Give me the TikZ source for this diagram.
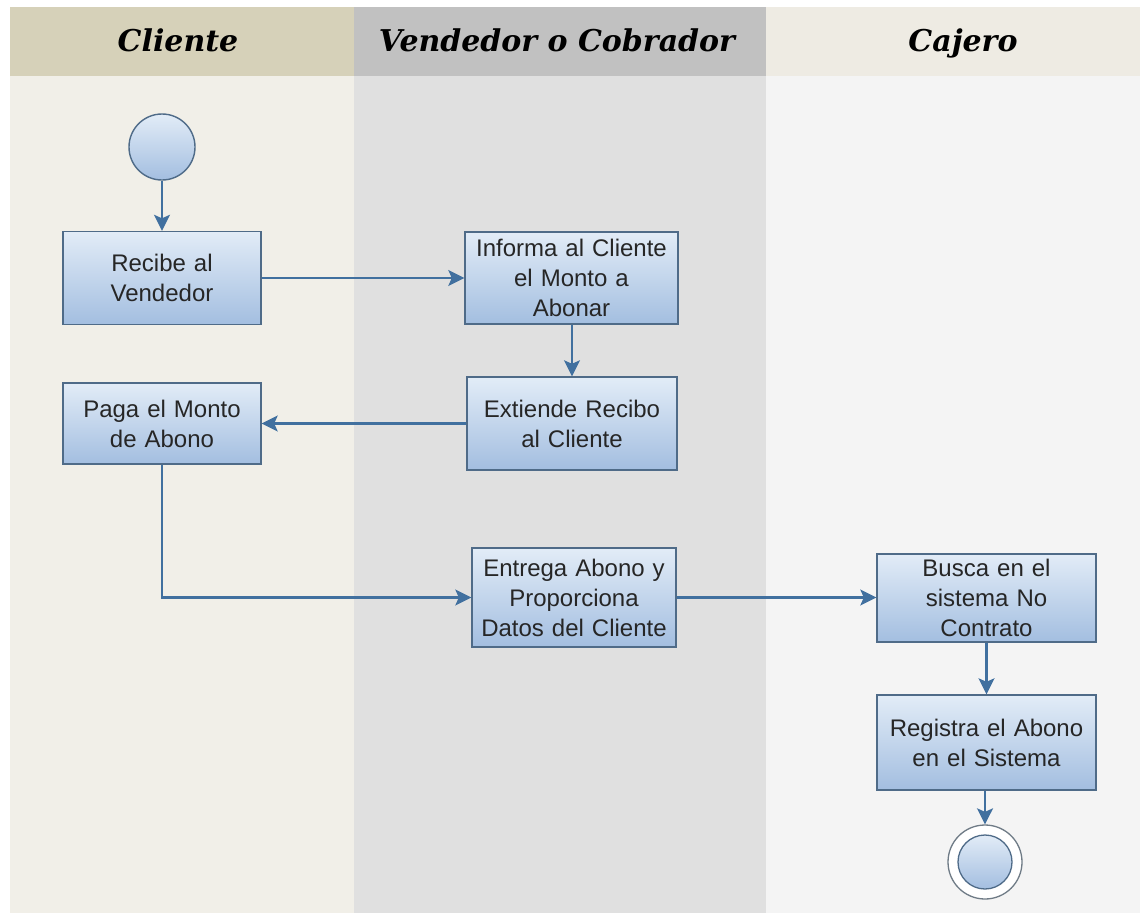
\documentclass[tikz,border=0pt]{standalone}
\usepackage{fontspec}
\setmainfont{Liberation Sans}
\newfontfamily\lanefont{DejaVu Serif}
\usetikzlibrary{arrows.meta,calc}
\definecolor{laneAhead}{HTML}{D6D1B9}
\definecolor{laneAbody}{HTML}{F1EFE8}
\definecolor{laneBhead}{HTML}{C1C1C1}
\definecolor{laneBbody}{HTML}{E0E0E0}
\definecolor{laneChead}{HTML}{EEEBE3}
\definecolor{laneCbody}{HTML}{F4F4F4}
\definecolor{boxTop}{HTML}{E2ECF7}
\definecolor{boxBot}{HTML}{A3BEE0}
\definecolor{boxLine}{HTML}{4F6B88}
\definecolor{flow}{HTML}{41709F}
\definecolor{ringLine}{HTML}{6F7B86}
\tikzset{
  x=1pt, y=1pt,
  lanetitle/.style={font=\lanefont\bfseries\itshape\fontsize{30}{34}\selectfont, text=black, anchor=base},
  activity/.style={draw=boxLine, line width=1.4pt, top color=boxTop, bottom color=boxBot,
    align=center, inner sep=2pt, font=\fontsize{24}{30}\selectfont, text=black!85},
  startnode/.style={circle, draw=boxLine, line width=1.4pt, top color=boxTop, bottom color=boxBot,
    minimum size=66pt, inner sep=0pt},
  endring/.style={circle, draw=ringLine, line width=1.3pt, fill=white, minimum size=74pt, inner sep=0pt},
  endcore/.style={circle, draw=boxLine, line width=1.3pt, top color=boxTop, bottom color=boxBot,
    minimum size=54pt, inner sep=0pt},
  flowline/.style={draw=flow, line width=2.1pt, -{Stealth[length=16pt,width=16pt,inset=3.5pt]}},
}
\begin{document}
\begin{tikzpicture}
\useasboundingbox (0,0) rectangle (1140,-913);
\fill[white] (0,0) rectangle (1140,-913);

% swimlanes: bodies and headers
\fill[laneAbody] (10,-76) rectangle (354,-913);
\fill[laneBbody] (354,-76) rectangle (766,-913);
\fill[laneCbody] (766,-76) rectangle (1140,-913);
\fill[laneAhead] (10,-7) rectangle (354,-76);
\fill[laneBhead] (354,-7) rectangle (766,-76);
\fill[laneChead] (766,-7) rectangle (1140,-76);

\node[lanetitle] (hcli) at (178,-51) {Cliente};
\node[lanetitle] (hven) at (557,-51) {Vendedor o Cobrador};
\node[lanetitle] (hcaj) at (963,-51) {Cajero};

% activities
\node[startnode] (start) at (162,-147) {};
\node[activity, minimum width=198pt, minimum height=93pt, text width=190pt] (recibe) at (162,-278) {Recibe al\\Vendedor};
\node[activity, minimum width=213pt, minimum height=92pt, text width=209pt] (informa) at (571.5,-278) {Informa al Cliente\\el Monto a\\Abonar};
\node[activity, minimum width=210pt, minimum height=93pt, text width=202pt] (extiende) at (572,-423.5) {Extiende Recibo\\al Cliente};
\node[activity, minimum width=198pt, minimum height=81pt, text width=190pt] (paga) at (162,-423.5) {Paga el Monto\\de Abono};
\node[activity, minimum width=204pt, minimum height=99pt, text width=198pt] (entrega) at (574,-597.5) {Entrega Abono y\\Proporciona\\Datos del Cliente};
\node[activity, minimum width=219pt, minimum height=88pt, text width=211pt] (busca) at (986.5,-598) {Busca en el\\sistema No\\Contrato};
\node[activity, minimum width=219pt, minimum height=95pt, text width=211pt] (registra) at (986.5,-742.5) {Registra el Abono\\en el Sistema};
\node[endring] (fin) at (985,-862) {};
\node[endcore] (fincore) at (fin.center) {};

% control flow
\draw[flowline] (start) -- (recibe);
\draw[flowline] (recibe.east) -- (recibe.east -| informa.west);
\draw[flowline] (informa.south -| extiende.north) -- (extiende.north);
\draw[flowline] (extiende.west) -- (extiende.west -| paga.east);
\draw[flowline] (paga.south) |- (entrega.west);
\draw[flowline] (entrega.east) -- (entrega.east -| busca.west);
\draw[flowline] (busca.south) -- (busca.south |- registra.north);
\draw[flowline] (registra.south -| fin.north) -- (fin.north);
\end{tikzpicture}
\end{document}
